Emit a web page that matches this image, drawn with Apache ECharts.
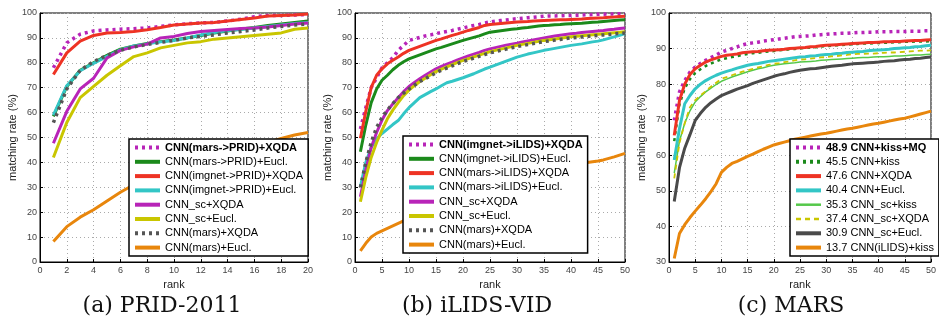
<!DOCTYPE html>
<html>
<head>
<meta charset="utf-8">
<script src="https://cdn.jsdelivr.net/npm/echarts@6/dist/echarts.min.js"></script>
<style>
  html, body { margin: 0; padding: 0; background: #fff; }
  #chart { width: 939px; height: 322px; }
</style>
</head>
<body>
<div id="chart"></div>
<script>
  // ---- (a) PRID-2011, rank 1..20 ----
  var pridMarsXqda   = [78, 88, 91.5, 92.8, 93.2, 93.5, 93.7, 94, 94.6, 95.2, 95.7, 96, 96.2, 96.8, 97.5, 98.5, 99, 99, 99.2, 99.4];
  var pridMarsEucl   = [58.5, 70.5, 77, 80, 83, 85.5, 86.8, 87.8, 88.5, 89.2, 90, 91, 92, 92.8, 93.6, 94.2, 95, 95.6, 96.2, 96.8];
  var pridImgXqda    = [75.3, 84, 88.7, 91, 92, 92.2, 92.6, 93.3, 94.2, 95.2, 95.6, 96, 96.2, 96.8, 97.4, 98, 98.8, 99, 99.2, 99.6];
  var pridImgEucl    = [59, 70.8, 76.8, 79.8, 82.6, 85.2, 86.8, 87.6, 88.4, 89, 90, 91.2, 92.2, 93, 93.4, 94, 94.6, 95.2, 95.8, 96.2];
  var pridScXqda     = [47.7, 60.5, 69.5, 73.8, 82, 85, 86.4, 87.5, 90, 90.6, 91.8, 92.6, 93, 93.4, 93.8, 94, 94.4, 95, 95.6, 96];
  var pridScEucl     = [42, 56, 66, 70.5, 75, 78.8, 82.5, 84, 86, 87, 88, 88.5, 89.5, 90, 90.5, 91, 91.5, 92, 93.5, 94];
  var pridCnnXqda    = [56, 69.5, 77, 80.5, 83, 85, 86.4, 87.4, 88.2, 89, 90, 90.6, 91.2, 92, 92.6, 93.2, 94, 94.6, 95.2, 95.6];
  var pridCnnEucl    = [8.2, 14.2, 18, 21, 24.5, 28, 31, 33.2, 35.2, 37, 38.8, 40.5, 42, 43.5, 45, 46.6, 48, 49.6, 51, 52];

  // ---- (b) iLIDS-VID, rank 1..50 ----
  var ilidsImgXqda  = [53.4, 62, 70, 74, 78, 80, 82, 85, 87, 89, 89.6, 90.2, 90.8, 91.2, 91.7, 92.2, 92.6, 93, 93.5, 94,
                       94.5, 95, 95.4, 96, 96.4, 96.7, 97, 97.2, 97.5, 97.7, 97.9, 98.1, 98.3, 98.5, 98.7, 98.8, 98.8, 98.9, 99, 99,
                       99.1, 99.2, 99.3, 99.4, 99.5, 99.5, 99.6, 99.6, 99.7, 99.7];
  var ilidsImgEucl  = [44.3, 55, 64, 69.5, 73, 75, 77.2, 79, 80.4, 81.6, 82.4, 83.2, 84, 84.8, 85.6, 86.2, 86.9, 87.6, 88.3, 89,
                       89.6, 90.2, 90.8, 91.6, 92.3, 92.6, 92.9, 93.2, 93.5, 93.7, 94, 94.2, 94.5, 94.8, 95, 95.1, 95.3, 95.4, 95.6, 95.7,
                       95.8, 95.9, 96.1, 96.3, 96.4, 96.6, 96.8, 97, 97.2, 97.3];
  var ilidsMarsXqda = [49.7, 60.5, 70, 75, 77.6, 79.6, 81, 82.3, 83.8, 85, 85.8, 86.6, 87.4, 88.2, 89, 89.6, 90.3, 91, 91.6, 92.3,
                       93, 93.6, 94.2, 95, 95.4, 95.6, 95.8, 96, 96.2, 96.4, 96.5, 96.6, 96.8, 96.9, 97, 97.1, 97.2, 97.3, 97.3, 97.4,
                       97.5, 97.6, 97.8, 97.9, 98, 98.1, 98.3, 98.4, 98.6, 98.7];
  var ilidsMarsEucl = [30.2, 40, 46, 49.5, 51.6, 53.4, 55.2, 56.8, 59.5, 62, 64, 66, 67.2, 68.4, 69.5, 70.8, 72, 72.6, 73.3, 74,
                       74.8, 75.6, 76.6, 77.5, 78.3, 79.1, 79.9, 80.7, 81.5, 82.3, 82.9, 83.5, 84, 84.5, 85, 85.4, 85.8, 86.2, 86.6, 87,
                       87.3, 87.6, 88, 88.4, 88.7, 89.2, 89.8, 90.4, 91, 91.7];
  var ilidsScXqda   = [26.2, 37, 46, 52, 57, 60.8, 63.5, 66, 68.4, 70.5, 72.1, 73.6, 75, 76.3, 77.6, 78.6, 79.5, 80.3, 81.2, 82,
                       82.8, 83.5, 84.2, 85, 85.6, 86.1, 86.6, 87.1, 87.5, 87.9, 88.4, 88.8, 89.2, 89.6, 90, 90.4, 90.8, 91.1, 91.4, 91.7,
                       91.9, 92.2, 92.4, 92.6, 92.8, 93, 93.3, 93.5, 93.8, 94];
  var ilidsScEucl   = [24.2, 34, 42, 48, 53, 57.5, 61, 64, 66.8, 69, 70.8, 72.5, 73.8, 75.2, 76.5, 77.5, 78.4, 79.3, 80.2, 81,
                       81.7, 82.4, 83.1, 83.8, 84.5, 85, 85.5, 86, 86.5, 87, 87.4, 87.8, 88.2, 88.6, 89, 89.3, 89.6, 89.9, 90.2, 90.5,
                       90.7, 90.9, 91.1, 91.3, 91.5, 91.7, 91.9, 92.1, 92.3, 92.5];
  var ilidsCnnXqda  = [30, 40, 48, 54, 58, 61, 63.6, 66, 67.8, 69.5, 71, 72.5, 73.6, 74.8, 76, 77, 77.9, 78.8, 79.7, 80.5,
                       81.2, 81.9, 82.6, 83.3, 84, 84.5, 85, 85.5, 86, 86.5, 86.9, 87.3, 87.7, 88.1, 88.5, 88.8, 89.1, 89.4, 89.7, 90,
                       90.2, 90.4, 90.6, 90.8, 91, 91.2, 91.4, 91.6, 91.8, 92];
  var ilidsCnnEucl  = [4.5, 7.5, 10, 11.5, 12.5, 13.5, 14.5, 15.5, 16.5, 17.5, 18.3, 19.1, 19.8, 20.5, 21.2, 22, 22.8, 23.6, 24.3, 25,
                       25.8, 26.6, 27.3, 28, 28.8, 29.5, 30.2, 30.9, 31.6, 32.3, 33, 33.7, 34.4, 35.1, 35.8, 36.5, 37.2, 37.9, 38.5, 39.1,
                       39.4, 39.7, 40, 40.3, 40.6, 41, 41.6, 42.2, 42.9, 43.6];

  // ---- (c) MARS, rank 1..50 ----
  var marsKissMq   = [69.8, 77.8, 81, 83.4, 84.8, 85.8, 86.7, 87.5, 88.2, 89, 89.5, 90, 90.5, 91, 91.4, 91.6, 91.8, 92.1, 92.3, 92.5,
                      92.7, 92.9, 93.1, 93.3, 93.4, 93.5, 93.6, 93.8, 93.9, 94, 94.1, 94.2, 94.3, 94.3, 94.4, 94.5, 94.5, 94.6, 94.6, 94.7,
                      94.7, 94.7, 94.8, 94.8, 94.8, 94.9, 94.9, 94.9, 95, 95];
  var marsKiss     = [64, 74.3, 78.8, 81.4, 83.1, 84.2, 85.1, 85.8, 86.4, 87, 87.3, 87.6, 87.9, 88.2, 88.5, 88.7, 88.8, 89, 89.2, 89.3,
                      89.5, 89.6, 89.8, 89.9, 90, 90.2, 90.3, 90.4, 90.6, 90.7, 90.8, 90.9, 91, 91.1, 91.2, 91.3, 91.4, 91.4, 91.5, 91.6,
                      91.6, 91.7, 91.8, 91.8, 91.9, 91.9, 92, 92, 92, 92.1];
  var marsXqda     = [65.6, 75.4, 80, 82.7, 84.3, 85.3, 86.2, 86.8, 87.3, 87.8, 88.1, 88.3, 88.5, 88.8, 89, 89.1, 89.2, 89.4, 89.5, 89.6,
                      89.7, 89.8, 90, 90.1, 90.2, 90.3, 90.5, 90.6, 90.8, 90.9, 91, 91.1, 91.2, 91.3, 91.4, 91.5, 91.6, 91.7, 91.7, 91.8,
                      91.9, 91.9, 92, 92, 92.1, 92.2, 92.3, 92.3, 92.4, 92.5];
  var marsEucl     = [58.7, 67.5, 74.5, 76.8, 78.7, 80, 81, 81.8, 82.5, 83.1, 83.6, 84, 84.5, 84.9, 85.3, 85.6, 85.8, 86.1, 86.4, 86.6,
                      86.8, 87, 87.2, 87.4, 87.6, 87.7, 87.9, 88, 88.2, 88.3, 88.4, 88.6, 88.7, 88.9, 89, 89.1, 89.2, 89.4, 89.5, 89.6,
                      89.7, 89.8, 90, 90.1, 90.2, 90.3, 90.5, 90.6, 90.8, 90.9];
  var marsScKiss   = [55, 64, 69, 72.5, 75, 76.5, 77.8, 78.9, 79.9, 80.8, 81.4, 82, 82.5, 83, 83.5, 83.9, 84.3, 84.6, 85, 85.3,
                      85.5, 85.7, 85.9, 86, 86.2, 86.3, 86.4, 86.5, 86.7, 86.8, 86.9, 87, 87.1, 87.2, 87.3, 87.4, 87.5, 87.5, 87.6, 87.7,
                      87.7, 87.8, 87.9, 87.9, 88, 88.1, 88.2, 88.2, 88.3, 88.4];
  var marsScXqda   = [53.5, 63.5, 69, 73.5, 75.5, 76.8, 78, 79.3, 80.4, 81.5, 82, 82.5, 83, 83.5, 83.9, 84.3, 84.7, 85, 85.4, 85.7,
                      85.9, 86.2, 86.4, 86.7, 86.9, 87, 87.2, 87.3, 87.5, 87.6, 87.8, 87.9, 88.1, 88.2, 88.4, 88.5, 88.5, 88.6, 88.6, 88.7,
                      88.8, 88.9, 88.9, 89, 89.1, 89.2, 89.3, 89.4, 89.4, 89.5];
  var marsScEucl   = [47, 56.5, 62, 65.8, 69.8, 71.8, 73.5, 74.8, 75.8, 76.8, 77.4, 78, 78.6, 79.1, 79.6, 80.2, 80.7, 81.2, 81.7, 82.2,
                      82.6, 82.9, 83.3, 83.6, 83.9, 84.1, 84.3, 84.4, 84.6, 84.8, 85, 85.2, 85.3, 85.5, 85.7, 85.8, 85.9, 86, 86.1, 86.2,
                      86.4, 86.5, 86.6, 86.8, 86.9, 87, 87.2, 87.3, 87.5, 87.6];
  var marsIlidsKiss = [31, 38, 40.5, 42.5, 44.3, 46, 47.8, 49.8, 52, 55.2, 56.6, 57.7, 58.3, 59, 59.7, 60.3, 61, 61.7, 62.3, 62.9,
                       63.3, 63.7, 64.1, 64.5, 64.8, 65.1, 65.4, 65.7, 66, 66.2, 66.5, 66.8, 67.1, 67.4, 67.6, 67.9, 68.2, 68.5, 68.8, 69,
                       69.3, 69.6, 69.9, 70.2, 70.4, 70.8, 71.2, 71.6, 72, 72.4];

  // 坐标轴刻度
  var xMaxA = 20, xStepA = 2;
  var xMaxB = 50, xStepB = 5;
  var yMinAB = 0, yMinC = 30, yMax = 100, yStep = 10;

  var captions = ['(a) PRID-2011', '(b) iLIDS-VID', '(c) MARS'];

  // colours
  var cPurple = '#B824B8', cGreen = '#1B8A1B', cRed = '#EE3324', cCyan = '#33C6C6',
      cYellow = '#C9C600', cGray = '#555555', cOrange = '#E8860C',
      cLightGreen = '#55C84A', cDarkGray = '#4A4A4A';

  var FONT = '"Liberation Sans", Arial, sans-serif';
  var myChart = echarts.init(document.getElementById('chart'));

  function line(name, data, idx, color, width, dash) {
    return {
      name: name,
      type: 'line',
      xAxisIndex: idx,
      yAxisIndex: idx,
      data: data.map(function (v, i) { return [i + 1, v]; }),
      symbol: 'none',
      showSymbol: false,
      animation: false,
      lineStyle: { color: color, width: width, type: dash || 'solid', cap: 'butt' },
      itemStyle: { color: color }
    };
  }

  function xAxis(idx, max, step) {
    return {
      type: 'value', gridIndex: idx, min: 0, max: max, interval: step,
      name: 'rank', nameLocation: 'middle', nameGap: 13,
      nameTextStyle: { fontSize: 11, color: '#222', fontFamily: FONT },
      axisLine: { lineStyle: { color: '#000', width: 1 } },
      axisTick: { inside: true, length: 3, lineStyle: { color: '#000' } },
      axisLabel: { fontSize: 9, color: '#444', margin: 4, fontFamily: FONT },
      splitLine: { show: true, lineStyle: { color: '#aaa', type: [1, 3], width: 1 } }
    };
  }

  function yAxis(idx, min) {
    return {
      type: 'value', gridIndex: idx, min: min, max: yMax, interval: yStep,
      name: 'matching rate (%)', nameLocation: 'middle', nameGap: 18, nameRotate: 90,
      nameTextStyle: { fontSize: 11, color: '#222', fontFamily: FONT },
      axisLine: { show: true, lineStyle: { color: '#000', width: 1 } },
      axisTick: { show: true, inside: true, length: 3, lineStyle: { color: '#000' } },
      axisLabel: { fontSize: 9, color: '#444', margin: 3, fontFamily: FONT },
      splitLine: { show: true, lineStyle: { color: '#aaa', type: [1, 3], width: 1 } }
    };
  }

  // 图例线宽
  function legend(left, top, names, widths) {
    return {
      left: left, top: top, orient: 'vertical',
      selectedMode: false,
      data: names.map(function (n, i) {
        var item = { name: n, lineStyle: { width: widths[i] } };
        if (i === 0) item.textStyle = { fontWeight: 'bold' };
        return item;
      }),
      itemWidth: 25, itemHeight: 9, itemGap: 3.3,
      itemStyle: { opacity: 0 },
      padding: [3, 5, 3, 4],
      borderColor: '#000', borderWidth: 1.5, borderRadius: 0,
      backgroundColor: '#fff',
      textStyle: { fontSize: 11, color: '#000', fontFamily: FONT, lineHeight: 10 }
    };
  }

  var namesA = ['CNN(mars->PRID)+XQDA', 'CNN(mars->PRID)+Eucl.', 'CNN(imgnet->PRID)+XQDA', 'CNN(imgnet->PRID)+Eucl.',
                'CNN_sc+XQDA', 'CNN_sc+Eucl.', 'CNN(mars)+XQDA', 'CNN(mars)+Eucl.'];
  var namesB = ['CNN(imgnet->iLIDS)+XQDA', 'CNN(imgnet->iLIDS)+Eucl.', 'CNN(mars->iLIDS)+XQDA', 'CNN(mars->iLIDS)+Eucl.',
                'CNN_sc+XQDA', 'CNN_sc+Eucl.', 'CNN(mars)+XQDA', 'CNN(mars)+Eucl.'];
  var namesC = ['48.9 CNN+kiss+MQ', '45.5 CNN+kiss', '47.6 CNN+XQDA', '40.4 CNN+Eucl.',
                '35.3 CNN_sc+kiss', '37.4 CNN_sc+XQDA', '30.9 CNN_sc+Eucl.', '13.7 CNN(iLIDS)+kiss'];
  var wideAB = [4, 4, 4, 4, 4, 4, 4, 4];
  var wideC = [4, 4, 4, 4, 2.5, 2.5, 4, 4];

  var series = [
    line(namesA[0], pridMarsXqda, 0, cPurple, 3.5, [3, 4]),
    line(namesA[1], pridMarsEucl, 0, cGreen, 3),
    line(namesA[2], pridImgXqda, 0, cRed, 3),
    line(namesA[3], pridImgEucl, 0, cCyan, 3),
    line(namesA[4], pridScXqda, 0, cPurple, 3),
    line(namesA[5], pridScEucl, 0, cYellow, 3),
    line(namesA[6], pridCnnXqda, 0, cGray, 3.5, [3, 4]),
    line(namesA[7], pridCnnEucl, 0, cOrange, 3),

    line(namesB[0], ilidsImgXqda, 1, cPurple, 3.5, [3, 4]),
    line(namesB[1], ilidsImgEucl, 1, cGreen, 3),
    line(namesB[2], ilidsMarsXqda, 1, cRed, 3),
    line(namesB[3], ilidsMarsEucl, 1, cCyan, 3),
    line(namesB[4], ilidsScXqda, 1, cPurple, 3),
    line(namesB[5], ilidsScEucl, 1, cYellow, 3),
    line(namesB[6], ilidsCnnXqda, 1, cGray, 3.5, [3, 4]),
    line(namesB[7], ilidsCnnEucl, 1, cOrange, 3),

    line(namesC[0], marsKissMq, 2, cPurple, 3.5, [3, 4]),
    line(namesC[1], marsKiss, 2, cGreen, 2.5, [3, 4]),
    line(namesC[2], marsXqda, 2, cRed, 3),
    line(namesC[3], marsEucl, 2, cCyan, 3),
    line(namesC[4], marsScKiss, 2, cLightGreen, 1.5),
    line(namesC[5], marsScXqda, 2, cYellow, 1.8, [5, 4]),
    line(namesC[6], marsScEucl, 2, cDarkGray, 3),
    line(namesC[7], marsIlidsKiss, 2, cOrange, 3)
  ];

  function caption(text, x) {
    return {
      type: 'text', x: x, y: 306,
      style: { text: text, fill: '#111', font: '22px "DejaVu Serif", serif', align: 'center', verticalAlign: 'middle' }
    };
  }

  myChart.setOption({
    animation: false,
    backgroundColor: '#fff',
    grid: [
      { left: 40, top: 13, width: 268, height: 249, show: true, borderColor: '#000', borderWidth: 1, backgroundColor: 'transparent' },
      { left: 355, top: 13, width: 270, height: 249, show: true, borderColor: '#000', borderWidth: 1, backgroundColor: 'transparent' },
      { left: 669, top: 13, width: 269, height: 249, show: true, borderColor: '#000', borderWidth: 1, backgroundColor: 'transparent' }
    ],
    xAxis: [xAxis(0, xMaxA, xStepA), xAxis(1, xMaxB, xStepB), xAxis(2, xMaxB, xStepB)],
    yAxis: [yAxis(0, yMinAB), yAxis(1, yMinAB), yAxis(2, yMinC)],
    legend: [legend(129, 139, namesA, wideAB), legend(403, 136, namesB, wideAB), legend(790, 139, namesC, wideC)],
    series: series,
    graphic: [caption(captions[0], 162), caption(captions[1], 477), caption(captions[2], 791)]
  });
</script>
</body>
</html>
